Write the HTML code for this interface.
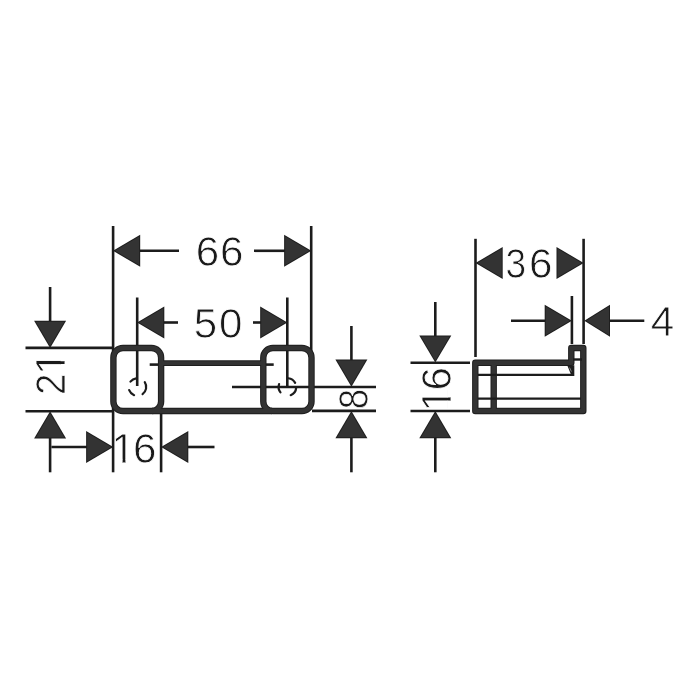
<!DOCTYPE html>
<html>
<head>
<meta charset="utf-8">
<title>Dimension drawing</title>
<style>
  html, body { margin: 0; padding: 0; background: #ffffff; }
  body { width: 700px; height: 700px; overflow: hidden; }
  svg { display: block; will-change: transform; filter: grayscale(1) blur(0.4px); }
  .thin { stroke: #1c1c1c; stroke-width: 2.6; fill: none; stroke-linecap: butt; }
  .thick { stroke: #1e1e1e; stroke-width: 6.4; fill: none; stroke-linejoin: round; }
  .thickin { stroke: #343334; stroke-width: 4.4; fill: none; stroke-linejoin: round; }
  text { font-family: "Liberation Sans", sans-serif; font-size: 42.15px; fill: #1a1a1a; stroke: #ffffff; stroke-width: 0.8; }
</style>
</head>
<body>
<svg width="700" height="700" viewBox="0 0 700 700">
  <rect x="0" y="0" width="700" height="700" fill="#ffffff"/>
  <!-- front view: extension / centre lines -->
  <g class="thin">
    <line x1="113.1" y1="226" x2="113.1" y2="472.3"/>
    <line x1="311.2" y1="226" x2="311.2" y2="353"/>
    <line x1="137.2" y1="297.5" x2="137.2" y2="386"/>
    <line x1="287.3" y1="297.5" x2="287.3" y2="387"/>
    <line x1="161.1" y1="410" x2="161.1" y2="472.3"/>
    <line x1="25.5" y1="347.9" x2="113" y2="347.9"/>
    <line x1="25.5" y1="411.2" x2="113" y2="411.2"/>
    <line x1="232" y1="387" x2="376" y2="387"/>
    <line x1="312" y1="410.9" x2="376" y2="410.9"/>
    <line x1="149.7" y1="364.6" x2="164" y2="364.6"/>
    <line x1="260" y1="364.6" x2="273.7" y2="364.6"/>
  </g>
  <!-- dimension 66 -->
  <g class="thin">
    <line x1="139" y1="250.8" x2="179" y2="250.8"/>
    <line x1="254" y1="250.8" x2="285.5" y2="250.8"/>
  </g>
  <g>
    <polygon fill="#1e1e1e" points="113,250.8 140.2,234.8 140.2,266.8"/>
    <polygon fill="#343334" points="114.97,250.8 139.2,236.55 139.2,265.05"/>
    <polygon fill="#1e1e1e" points="311.3,250.8 284.1,234.8 284.1,266.8"/>
    <polygon fill="#343334" points="309.33,250.8 285.1,236.55 285.1,265.05"/>
    <text y="265.7"><tspan x="195.63">6</tspan><tspan x="220.03">6</tspan></text>
  </g>
  <!-- dimension 50 -->
  <g class="thin">
    <line x1="163.5" y1="322.5" x2="178" y2="322.5"/>
    <line x1="253" y1="322.5" x2="261" y2="322.5"/>
  </g>
  <g>
    <polygon fill="#1e1e1e" points="137.1,322.5 164.3,306.5 164.3,338.5"/>
    <polygon fill="#343334" points="139.07,322.5 163.3,308.25 163.3,336.75"/>
    <polygon fill="#1e1e1e" points="287.4,322.5 260.2,306.5 260.2,338.5"/>
    <polygon fill="#343334" points="285.43,322.5 261.2,308.25 261.2,336.75"/>
    <text y="338.2"><tspan x="193.72">5</tspan><tspan x="219.03">0</tspan></text>
  </g>
  <!-- dimension 21 -->
  <g class="thin">
    <line x1="50.1" y1="287" x2="50.1" y2="322"/>
    <line x1="50.1" y1="437" x2="50.1" y2="472.3"/>
  </g>
  <g>
    <polygon fill="#1e1e1e" points="50.1,348 34.1,320.8 66.1,320.8"/>
    <polygon fill="#343334" points="50.1,346.03 35.85,321.8 64.35,321.8"/>
    <polygon fill="#1e1e1e" points="50.1,411.2 34.1,438.4 66.1,438.4"/>
    <polygon fill="#343334" points="50.1,413.17 35.85,437.4 64.35,437.4"/>
    <clipPath id="c21"><path clip-rule="evenodd" d="M -1000,-1000 H 1000 V 1000 H -1000 Z M -373.38,-4.21 H -364.01 V 3 H -373.38 Z M -361.19,-4.21 H -352.3 V 3 H -361.19 Z"/></clipPath>
    <text transform="translate(64.7,0) rotate(-90)" y="0" clip-path="url(#c21)"><tspan x="-394.93" textLength="21.36" lengthAdjust="spacingAndGlyphs">2</tspan><tspan x="-375.06">1</tspan></text>
  </g>
  <!-- dimension 16 (front) -->
  <g class="thin">
    <line x1="51.4" y1="447" x2="87" y2="447"/>
    <line x1="187.5" y1="447" x2="214.5" y2="447"/>
  </g>
  <g>
    <polygon fill="#1e1e1e" points="113.3,447 86.1,431 86.1,463"/>
    <polygon fill="#343334" points="111.33,447 87.1,432.75 87.1,461.25"/>
    <polygon fill="#1e1e1e" points="161.1,447 188.3,431 188.3,463"/>
    <polygon fill="#343334" points="163.07,447 187.3,432.75 187.3,461.25"/>
    <clipPath id="c16b"><path clip-rule="evenodd" d="M -1000,-1000 H 1000 V 1000 H -1000 Z M 113.22,458.49 H 122.59 V 465.7 H 113.22 Z M 125.41,458.49 H 134.3 V 465.7 H 125.41 Z"/></clipPath>
    <text y="462.7" clip-path="url(#c16b)"><tspan x="111.54">1</tspan><tspan x="132.88">6</tspan></text>
  </g>
  <!-- dimension 8 -->
  <g class="thin">
    <line x1="351.4" y1="326" x2="351.4" y2="361"/>
    <line x1="351.4" y1="437" x2="351.4" y2="472.3"/>
  </g>
  <g>
    <polygon fill="#1e1e1e" points="351.4,386.7 335.4,359.5 367.4,359.5"/>
    <polygon fill="#343334" points="351.4,384.73 337.15,360.5 365.65,360.5"/>
    <polygon fill="#1e1e1e" points="351.4,411.1 335.4,438.3 367.4,438.3"/>
    <polygon fill="#343334" points="351.4,413.07 337.15,437.3 365.65,437.3"/>
    <text transform="translate(367.6,0) rotate(-90)" y="0"><tspan x="-409.19" textLength="20.39" lengthAdjust="spacingAndGlyphs">8</tspan></text>
  </g>
  <!-- front body -->
  <g class="thick">
    <rect x="113.4" y="348.05" width="47.7" height="62.95" rx="9.6" ry="9.6"/>
    <rect x="263.3" y="348.05" width="48.2" height="62.95" rx="9.6" ry="9.6"/>
    <line x1="152" y1="411" x2="272" y2="411"/>
    <line x1="163" y1="363.1" x2="262" y2="363.1" style="stroke-width:5.9"/>
  </g>
  <g class="thickin">
    <rect x="113.4" y="348.05" width="47.7" height="62.95" rx="9.6" ry="9.6"/>
    <rect x="263.3" y="348.05" width="48.2" height="62.95" rx="9.6" ry="9.6"/>
    <line x1="152" y1="411" x2="272" y2="411"/>
    <line x1="162" y1="363.1" x2="263" y2="363.1" style="stroke-width:3.9"/>
  </g>
  <!-- dashed screw circles -->
  <g class="thin" style="stroke-width:2.2;stroke-linecap:round">
    <path d="M 130.47,381.58 A 8.8,8.8 0 0 1 136.18,378.29"/>
    <path d="M 144.78,382.21 A 8.8,8.8 0 0 1 142.57,394.12"/>
    <path d="M 134.1,395.16 A 8.8,8.8 0 0 1 129.18,390.15"/>
    <path d="M 288.32,378.25 A 8.8,8.8 0 0 1 295.17,382.87"/>
    <path d="M 296.18,387.61 A 8.8,8.8 0 0 1 290.7,395.16"/>
    <path d="M 280.47,392.42 A 8.8,8.8 0 0 1 279.08,384.14"/>
  </g>
  <!-- side view: extension lines -->
  <g class="thin">
    <line x1="410.5" y1="362.7" x2="470" y2="362.7"/>
    <line x1="410.5" y1="411" x2="470" y2="411"/>
    <line x1="475.5" y1="238.8" x2="475.5" y2="357"/>
    <line x1="583.6" y1="238.8" x2="583.6" y2="344"/>
    <line x1="571.9" y1="296" x2="571.9" y2="344"/>
  </g>
  <!-- dimension 16 (side) -->
  <g class="thin">
    <line x1="435.3" y1="302" x2="435.3" y2="337"/>
    <line x1="435.3" y1="437" x2="435.3" y2="472.3"/>
  </g>
  <g>
    <polygon fill="#1e1e1e" points="435.3,362.6 419.3,335.4 451.3,335.4"/>
    <polygon fill="#343334" points="435.3,360.63 421.05,336.4 449.55,336.4"/>
    <polygon fill="#1e1e1e" points="435.3,411 419.3,438.2 451.3,438.2"/>
    <polygon fill="#343334" points="435.3,412.97 421.05,437.2 449.55,437.2"/>
    <clipPath id="c16s"><path clip-rule="evenodd" d="M -1000,-1000 H 1000 V 1000 H -1000 Z M -409.78,-4.21 H -400.41 V 3 H -409.78 Z M -397.59,-4.21 H -388.7 V 3 H -397.59 Z"/></clipPath>
    <text transform="translate(451.3,0) rotate(-90)" y="0" clip-path="url(#c16s)"><tspan x="-411.46">1</tspan><tspan x="-390.62">6</tspan></text>
  </g>
  <!-- dimension 36 -->
  <g>
    <polygon fill="#1e1e1e" points="475.5,263 502.7,247 502.7,279"/>
    <polygon fill="#343334" points="477.47,263 501.7,248.75 501.7,277.25"/>
    <polygon fill="#1e1e1e" points="583.7,263 556.5,247 556.5,279"/>
    <polygon fill="#343334" points="581.73,263 557.5,248.75 557.5,277.25"/>
    <text y="277.8"><tspan x="505.54" textLength="20.65" lengthAdjust="spacingAndGlyphs">3</tspan><tspan x="528.88">6</tspan></text>
  </g>
  <!-- dimension 4 -->
  <g class="thin">
    <line x1="511" y1="320.8" x2="546" y2="320.8"/>
    <line x1="609" y1="320.8" x2="644.3" y2="320.8"/>
  </g>
  <g>
    <polygon fill="#1e1e1e" points="571.9,320.8 544.7,304.8 544.7,336.8"/>
    <polygon fill="#343334" points="569.93,320.8 545.7,306.55 545.7,335.05"/>
    <polygon fill="#1e1e1e" points="584.3,320.8 610,304.8 610,336.8"/>
    <polygon fill="#343334" points="586.19,320.8 609,306.6 609,335"/>
    <text y="336"><tspan x="650.71">4</tspan></text>
  </g>
  <!-- side body -->
  <g class="thick">
    <path d="M 475.3,362.8 L 571.3,362.8 L 571.3,348 L 583.3,348 L 583.3,411 L 475.3,411 Z"/>
    <line x1="493.7" y1="362.8" x2="493.7" y2="411"/>
  </g>
  <g class="thickin">
    <path d="M 475.3,362.8 L 571.3,362.8 L 571.3,348 L 583.3,348 L 583.3,411 L 475.3,411 Z"/>
    <line x1="493.7" y1="362.8" x2="493.7" y2="411"/>
  </g>
  <g class="thin" style="stroke-width:2.4">
    <line x1="573" y1="359.5" x2="582" y2="359.5"/>
    <line x1="478" y1="374.9" x2="574" y2="374.9"/>
    <line x1="478" y1="398.6" x2="581" y2="398.6"/>
  </g>
  <polygon points="567.2,365.3 574.3,365.3 574.3,376.1 571.6,376.1" fill="#1e1e1e"/>
  <line x1="569.6" y1="367.6" x2="571.4" y2="371.6" stroke="#8a8a8a" stroke-width="0.9"/>
</svg>
</body>
</html>
